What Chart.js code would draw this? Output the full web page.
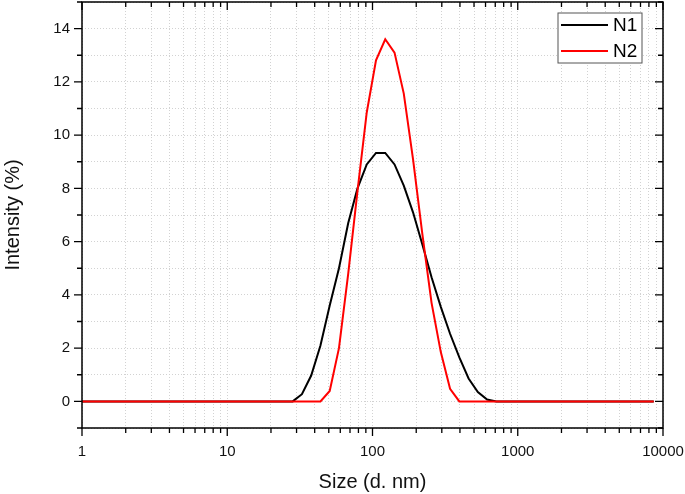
<!DOCTYPE html>
<html>
<head>
<meta charset="utf-8">
<script src="https://cdn.jsdelivr.net/npm/chart.js@4.4.0/dist/chart.umd.min.js"></script>
<style>
  html, body { margin: 0; padding: 0; background: #fff; }
  canvas { display: block; }
</style>
</head>
<body>
<canvas id="dls" width="685" height="494"></canvas>
<script>
// size bins (d. nm)
const sizes = [0.9649, 1.117, 1.294, 1.499, 1.736, 2.01, 2.328, 2.696, 3.122, 3.615,
  4.187, 4.849, 5.615, 6.503, 7.531, 8.721, 10.1, 11.7, 13.54, 15.69,
  18.17, 21.04, 24.36, 28.21, 32.67, 37.84, 43.82, 50.75, 58.77, 68.06,
  78.82, 91.28, 105.7, 122.4, 141.8, 164.2, 190.1, 220.2, 255.0, 295.3,
  342.0, 396.1, 458.7, 531.2, 615.1, 712.4, 825.0, 955.4, 1106, 1281,
  1484, 1718, 1990, 2305, 2669, 3091, 3580, 4145, 4801, 5560,
  6439, 7456, 8635];

// intensity (%)
const n1 = [0, 0, 0, 0, 0, 0, 0, 0, 0, 0,
  0, 0, 0, 0, 0, 0, 0, 0, 0, 0,
  0, 0, 0, 0, 0.27, 0.97, 2.1, 3.6, 5.0, 6.7,
  8.0, 8.9, 9.33, 9.33, 8.9, 8.1, 7.1, 5.9, 4.66, 3.55,
  2.54, 1.65, 0.86, 0.35, 0.07, 0, 0, 0, 0, 0,
  0, 0, 0, 0, 0, 0, 0, 0, 0, 0,
  0, 0, 0];
const n2 = [0, 0, 0, 0, 0, 0, 0, 0, 0, 0,
  0, 0, 0, 0, 0, 0, 0, 0, 0, 0,
  0, 0, 0, 0, 0, 0, 0, 0.39, 2.0, 4.8,
  7.9, 10.85, 12.81, 13.6, 13.1, 11.56, 9.1, 6.3, 3.7, 1.85,
  0.47, 0, 0, 0, 0, 0, 0, 0, 0, 0,
  0, 0, 0, 0, 0, 0, 0, 0, 0, 0,
  0, 0, 0];

const seriesNames = ['N1', 'N2'];
const seriesColors = ['#000000', '#ff0000'];

const xMajorTicks = [1, 10, 100, 1000, 10000];
const xMinorSteps = [2, 3, 4, 5, 6, 7, 8, 9];
const yLabelTicks = [0, 2, 4, 6, 8, 10, 12, 14];

const FONT = "'Liberation Sans', Arial, sans-serif";

function toPoints (ys) {
  return sizes.map((x, i) => ({ x, y: ys[i] }));
}

function isMajorX (v) {
  return xMajorTicks.includes(v);
}

const xTickValues = [];
xMajorTicks.forEach((m, i) => {
  xTickValues.push(m);
  if (i < xMajorTicks.length - 1) {
    xMinorSteps.forEach(s => xTickValues.push(Math.round(m * s)));
  }
});

// box round the plot, tick marks and a framed legend
const frameAndTicks = {
  id: 'frameAndTicks',
  afterDatasetsDraw (chart) {
    const { ctx, chartArea } = chart;
    const { left, right, top, bottom } = chartArea;
    const xs = chart.scales.x;
    const ys = chart.scales.y;

    ctx.save();
    ctx.strokeStyle = '#000';
    ctx.lineWidth = 1.5;
    ctx.strokeRect(left, top, right - left, bottom - top);

    ctx.lineWidth = 1.3;
    ctx.beginPath();
    xs.ticks.forEach(t => {
      const px = xs.getPixelForValue(t.value);
      const len = isMajorX(t.value) ? 8 : 5;
      ctx.moveTo(px, bottom);
      ctx.lineTo(px, bottom + len);
      ctx.moveTo(px, top);
      ctx.lineTo(px, top + len);
    });
    ys.ticks.forEach(t => {
      const py = ys.getPixelForValue(t.value);
      const len = t.value % 2 === 0 ? 8 : 5;
      ctx.moveTo(left, py);
      ctx.lineTo(left - len, py);
      ctx.moveTo(right, py);
      ctx.lineTo(right - len, py);
    });
    ctx.stroke();

    // legend
    const boxRight = right - 21;
    const boxLeft = boxRight - 84;
    const boxTop = top + 11;
    const rowH = 26;
    ctx.fillStyle = '#fff';
    ctx.fillRect(boxLeft, boxTop, boxRight - boxLeft, 50);
    ctx.strokeStyle = '#555';
    ctx.lineWidth = 1;
    ctx.strokeRect(boxLeft, boxTop, boxRight - boxLeft, 50);
    ctx.font = '19px ' + FONT;
    ctx.textBaseline = 'middle';
    ctx.textAlign = 'left';
    chart.data.datasets.forEach((ds, i) => {
      const cy = boxTop + 12 + rowH * i;
      ctx.strokeStyle = ds.borderColor;
      ctx.lineWidth = 2;
      ctx.beginPath();
      ctx.moveTo(boxLeft + 3, cy);
      ctx.lineTo(boxLeft + 50, cy);
      ctx.stroke();
      ctx.fillStyle = '#000';
      ctx.fillText(ds.label, boxLeft + 55, cy + 1);
    });
    ctx.restore();
  }
};

// eslint-disable-next-line no-undef
const dlsChart = new Chart('dls', {
  type: 'line',
  data: {
    datasets: [
      { label: seriesNames[0], data: toPoints(n1), borderColor: seriesColors[0], borderWidth: 2, pointRadius: 0, order: 1 },
      { label: seriesNames[1], data: toPoints(n2), borderColor: seriesColors[1], borderWidth: 2, pointRadius: 0, order: 0 }
    ]
  },
  options: {
    responsive: false,
    animation: false,
    layout: { padding: { top: 2, right: 22, left: 0, bottom: 0 } },
    plugins: {
      legend: { display: false },
      tooltip: { enabled: false }
    },
    scales: {
      x: {
        type: 'logarithmic',
        min: 1,
        max: 10000,
        afterBuildTicks: axis => { axis.ticks = xTickValues.map(v => ({ value: v })); },
        afterFit: axis => {
          axis.height = 66;
          axis.paddingLeft = 0;
          axis.paddingRight = 0;
        },
        grid: { color: '#d2d2d2', lineWidth: 1, drawTicks: false },
        border: { display: false, dash: [1, 2] },
        ticks: {
          autoSkip: false,
          maxRotation: 0,
          padding: 15,
          color: '#111',
          font: { family: FONT, size: 15 },
          callback: v => isMajorX(v) ? String(v) : ''
        },
        title: {
          display: true,
          text: 'Size (d. nm)',
          color: '#111',
          font: { family: FONT, size: 20 },
          padding: { top: 0, bottom: 0 }
        }
      },
      y: {
        min: -1,
        max: 15,
        afterFit: axis => {
          axis.width = 82;
          axis.paddingTop = 0;
          axis.paddingBottom = 0;
        },
        grid: { color: '#d2d2d2', lineWidth: 1, drawTicks: false },
        border: { display: false, dash: [1, 2] },
        ticks: {
          stepSize: 1,
          autoSkip: false,
          padding: 12,
          color: '#111',
          font: { family: FONT, size: 15 },
          callback: v => yLabelTicks.includes(v) ? String(v) : ''
        },
        title: {
          display: true,
          text: 'Intensity (%)',
          color: '#111',
          font: { family: FONT, size: 20 },
          padding: { top: 1, bottom: 0 }
        }
      }
    }
  },
  plugins: [frameAndTicks]
});
</script>
</body>
</html>
